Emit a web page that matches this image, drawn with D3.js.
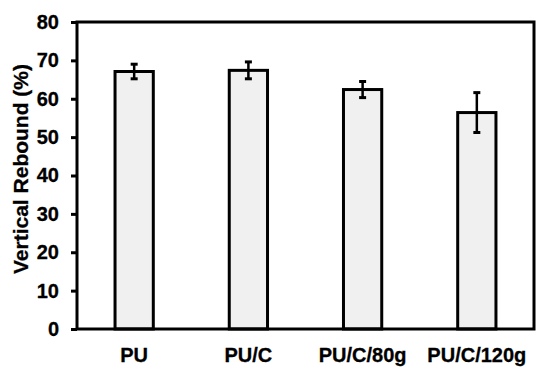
<!DOCTYPE html>
<html>
<head>
<meta charset="utf-8">
<script src="https://cdn.jsdelivr.net/npm/d3@7"></script>
<style>
  body { margin: 0; background: #fff; }
  text { font-family: "Liberation Sans", Arial, sans-serif; font-weight: bold; fill: #000; }
</style>
</head>
<body>
<svg id="chart" width="550" height="379"></svg>
<script>
// values
var categories = ["PU", "PU/C", "PU/C/80g", "PU/C/120g"];
var means = [67.1, 67.4, 62.4, 56.4];
var errors = [1.9, 2.2, 2.1, 5.2];
var yTicks = [0, 10, 20, 30, 40, 50, 60, 70, 80];

var margin = { top: 22, right: 16, bottom: 50, left: 77 };
var width = 550 - margin.left - margin.right,
    height = 379 - margin.top - margin.bottom;

var svg = d3.select("#chart");
var g = svg.append("g").attr("transform", "translate(" + margin.left + "," + margin.top + ")");

var x = d3.scaleBand().domain(categories).range([0, width]).paddingInner(0.665).paddingOuter(0.333);
var y = d3.scaleLinear().domain([0, 80]).range([height, 0]);

// bars
g.selectAll("rect.bar")
    .data(categories)
    .enter().append("rect")
    .attr("class", "bar")
    .attr("x", function (d) { return x(d); })
    .attr("y", function (d, i) { return y(means[i]); })
    .attr("width", x.bandwidth())
    .attr("height", function (d, i) { return height - y(means[i]); })
    .attr("fill", "#f0f0f0")
    .attr("stroke", "#000")
    .attr("stroke-width", 3);

// error bars
var eb = g.selectAll("g.err").data(categories).enter().append("g").attr("class", "err");
eb.append("line")
    .attr("x1", function (d) { return x(d) + x.bandwidth() / 2; })
    .attr("x2", function (d) { return x(d) + x.bandwidth() / 2; })
    .attr("y1", function (d, i) { return y(means[i] + errors[i]); })
    .attr("y2", function (d, i) { return y(means[i] - errors[i]); })
    .attr("stroke", "#000").attr("stroke-width", 2.5);
[1, -1].forEach(function (s) {
    eb.append("line")
        .attr("x1", function (d) { return x(d) + x.bandwidth() / 2 - 3.5; })
        .attr("x2", function (d) { return x(d) + x.bandwidth() / 2 + 3.5; })
        .attr("y1", function (d, i) { return y(means[i] + s * errors[i]); })
        .attr("y2", function (d, i) { return y(means[i] + s * errors[i]); })
        .attr("stroke", "#000").attr("stroke-width", 3);
});

// frame
g.append("rect")
    .attr("x", 0).attr("y", 0)
    .attr("width", width).attr("height", height)
    .attr("fill", "none").attr("stroke", "#000").attr("stroke-width", 3);

// y axis
var yAxis = g.append("g")
    .call(d3.axisLeft(y).tickValues(yTicks).tickSize(6).tickPadding(12));
yAxis.select(".domain").remove();
yAxis.attr("font-size", null).attr("font-family", null);
yAxis.selectAll(".tick line").attr("stroke", "#000").attr("stroke-width", 3);
yAxis.selectAll(".tick text")
    .style("font-size", "20px")
    .style("stroke", "#000").style("stroke-width", 0.3);

// x labels
g.selectAll("text.xlab")
    .data(categories)
    .enter().append("text")
    .attr("class", "xlab")
    .attr("x", function (d) { return x(d) + x.bandwidth() / 2; })
    .attr("y", height + 33)
    .attr("text-anchor", "middle")
    .style("font-size", "20px")
    .style("stroke", "#000").style("stroke-width", 0.3)
    .text(function (d) { return d; });

// y title
svg.append("text")
    .attr("transform", "translate(28,169) rotate(-90)")
    .attr("text-anchor", "middle")
    .style("font-size", "21px")
    .style("stroke", "#000").style("stroke-width", 0.3)
    .text("Vertical Rebound (%)");
</script>
</body>
</html>
